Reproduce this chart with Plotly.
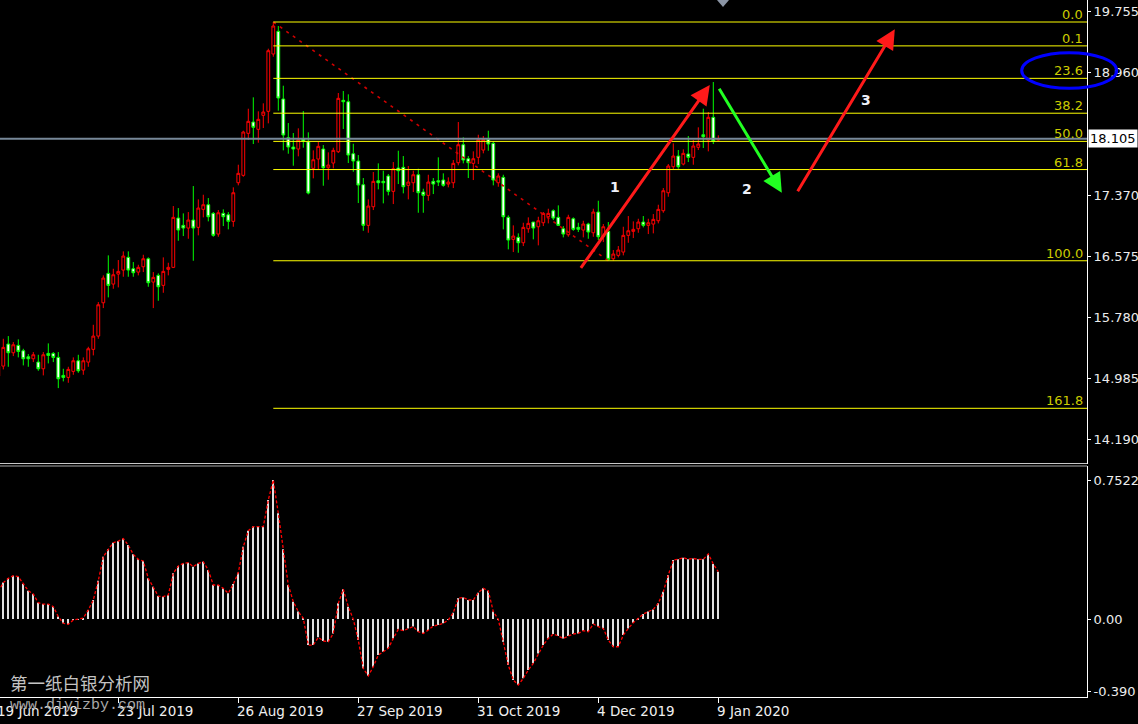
import plotly.graph_objects as go

# ---------------- data ----------------
open_ = [15.019, 15.149, 15.435, 15.322, 15.418, 15.348, 15.270, 15.244, 15.201, 15.114,
         15.314, 15.314, 15.262, 15.028, 15.002, 15.080, 15.218, 15.097, 15.201, 15.366,
         15.539, 15.972, 16.354, 16.215, 16.345, 16.397, 16.562, 16.414, 16.371, 16.440,
         16.544, 16.241, 16.328, 16.198, 16.406, 16.432, 17.073, 16.978, 16.943, 17.047,
         16.952, 17.186, 17.246, 17.134, 16.865, 17.134, 17.116, 17.030, 17.532, 17.628,
         18.174, 18.321, 18.226, 18.408, 18.460, 19.205, 19.500, 18.620, 18.117, 17.996,
         17.970, 18.100, 18.065, 17.719, 17.840, 17.970, 17.727, 17.788, 17.935, 18.603,
         18.585, 17.909, 17.814, 17.506, 16.978, 17.220, 17.558, 17.550, 17.619, 17.420,
         17.723, 17.732, 17.498, 17.532, 17.636, 17.411, 17.368, 17.550, 17.558, 17.567,
         17.515, 17.532, 17.792, 18.026, 17.844, 17.784, 17.862, 17.957, 18.096, 18.044,
         17.532, 17.602, 17.082, 16.796, 16.822, 16.752, 16.934, 17.021, 16.960, 17.012,
         17.090, 17.168, 17.082, 16.934, 16.856, 17.064, 16.952, 16.917, 16.995, 16.882,
         17.151, 16.830, 16.900, 16.544, 16.588, 16.631, 16.848, 16.900, 16.934, 17.021,
         16.978, 16.995, 17.038, 17.168, 17.402, 17.740, 17.879, 17.775, 17.905, 17.862,
         17.992, 18.156, 18.087, 18.382, 18.087]
high = [15.188, 15.504, 15.539, 15.461, 15.496, 15.374, 15.305, 15.331, 15.296, 15.331,
        15.444, 15.331, 15.331, 15.114, 15.140, 15.262, 15.296, 15.262, 15.400, 15.686,
        15.981, 16.328, 16.588, 16.414, 16.527, 16.640, 16.640, 16.501, 16.466, 16.596,
        16.562, 16.371, 16.354, 16.562, 16.492, 17.229, 17.203, 17.134, 17.151, 17.489,
        17.316, 17.376, 17.333, 17.151, 17.177, 17.186, 17.151, 17.472, 17.766, 18.208,
        18.494, 18.642, 18.460, 18.564, 19.274, 19.621, 19.569, 18.793, 18.308, 18.178,
        18.239, 18.464, 18.187, 17.953, 18.065, 18.022, 17.927, 17.987, 18.698, 18.724,
        18.681, 18.039, 17.892, 17.593, 17.316, 17.671, 17.784, 17.688, 17.645, 17.801,
        17.948, 17.879, 17.749, 17.688, 17.714, 17.454, 17.636, 17.593, 17.862, 17.654,
        17.602, 17.827, 18.321, 18.122, 17.879, 17.940, 18.156, 18.139, 18.208, 18.070,
        17.654, 17.636, 17.108, 16.978, 16.874, 17.012, 17.082, 17.021, 17.090, 17.151,
        17.194, 17.186, 17.238, 16.969, 17.116, 17.082, 17.012, 17.038, 17.012, 17.194,
        17.298, 16.995, 17.021, 16.657, 16.709, 16.960, 17.099, 17.030, 17.064, 17.099,
        17.064, 17.125, 17.246, 17.463, 17.775, 18.044, 17.957, 17.966, 18.139, 18.087,
        18.252, 18.494, 18.451, 18.841, 18.148]
low = [14.993, 15.106, 15.140, 15.279, 15.262, 15.158, 15.140, 15.201, 15.088, 15.028,
       15.184, 15.201, 14.863, 14.950, 14.932, 15.036, 15.062, 15.036, 15.140, 15.288,
       15.504, 15.903, 16.042, 16.154, 16.172, 16.310, 16.310, 16.310, 16.328, 16.371,
       16.180, 15.903, 15.998, 16.102, 16.328, 16.423, 16.778, 16.839, 16.804, 16.518,
       16.848, 17.082, 17.030, 16.830, 16.830, 16.969, 16.926, 16.960, 17.498, 17.610,
       18.087, 18.035, 18.052, 18.243, 18.304, 19.170, 18.468, 17.953, 17.909, 17.753,
       17.875, 17.987, 17.381, 17.589, 17.710, 17.493, 17.571, 17.719, 17.918, 18.230,
       17.788, 17.675, 17.268, 16.908, 16.882, 17.177, 17.446, 17.264, 17.368, 17.255,
       17.515, 17.394, 17.316, 17.411, 17.142, 17.142, 17.298, 17.385, 17.489, 17.480,
       17.472, 17.463, 17.758, 17.784, 17.593, 17.567, 17.775, 17.914, 17.948, 17.498,
       17.480, 16.926, 16.666, 16.631, 16.622, 16.709, 16.882, 16.796, 16.718, 16.969,
       17.004, 17.047, 16.969, 16.822, 16.830, 16.908, 16.891, 16.822, 16.804, 16.830,
       16.787, 16.761, 16.518, 16.518, 16.562, 16.588, 16.752, 16.813, 16.882, 16.952,
       16.865, 16.874, 17.004, 17.142, 17.350, 17.706, 17.714, 17.758, 17.801, 17.766,
       17.957, 17.983, 17.940, 18.035, 18.078]
close = [15.149, 15.392, 15.322, 15.426, 15.340, 15.244, 15.244, 15.296, 15.114, 15.296,
         15.288, 15.262, 14.984, 15.002, 15.106, 15.218, 15.088, 15.218, 15.374, 15.539,
         15.946, 16.293, 16.198, 16.336, 16.380, 16.579, 16.397, 16.362, 16.432, 16.544,
         16.232, 16.302, 16.180, 16.380, 16.432, 17.082, 16.917, 16.943, 17.047, 16.943,
         17.203, 17.246, 17.090, 16.848, 17.142, 17.090, 17.030, 17.402, 17.654, 18.191,
         18.330, 18.252, 18.356, 18.451, 19.248, 19.569, 18.633, 18.152, 17.996, 17.970,
         18.091, 18.074, 17.398, 17.831, 18.005, 17.727, 17.762, 17.953, 18.629, 18.585,
         17.892, 17.814, 17.502, 16.978, 17.229, 17.550, 17.532, 17.532, 17.420, 17.714,
         17.688, 17.480, 17.541, 17.636, 17.402, 17.368, 17.541, 17.515, 17.541, 17.498,
         17.541, 17.784, 18.026, 17.827, 17.792, 17.844, 18.096, 18.096, 18.035, 17.567,
         17.619, 17.090, 16.787, 16.839, 16.752, 16.952, 17.004, 16.943, 17.038, 17.134,
         17.134, 17.073, 16.978, 16.865, 17.082, 16.926, 16.926, 16.995, 16.891, 17.151,
         16.830, 16.960, 16.536, 16.605, 16.657, 16.848, 16.908, 16.926, 17.021, 16.978,
         17.012, 17.056, 17.186, 17.428, 17.749, 17.879, 17.740, 17.914, 17.862, 18.009,
         18.035, 18.130, 18.382, 18.070, 18.104]
osma = [0.148, 0.197, 0.220, 0.234, 0.229, 0.189, 0.153, 0.135, 0.088, 0.081,
        0.081, 0.067, 0.013, -0.023, -0.029, -0.005, -0.002, 0.005, 0.049, 0.103,
        0.207, 0.337, 0.377, 0.413, 0.422, 0.435, 0.400, 0.350, 0.323, 0.314,
        0.220, 0.175, 0.124, 0.121, 0.130, 0.247, 0.287, 0.301, 0.305, 0.283,
        0.301, 0.310, 0.265, 0.184, 0.184, 0.166, 0.139, 0.189, 0.251, 0.391,
        0.478, 0.500, 0.500, 0.500, 0.644, 0.7522, 0.572, 0.377, 0.184, 0.094,
        0.040, 0.004, -0.141, -0.141, -0.099, -0.119, -0.123, -0.078, 0.085, 0.161,
        0.067, -0.002, -0.114, -0.267, -0.308, -0.258, -0.195, -0.177, -0.159, -0.105,
        -0.056, -0.063, -0.051, -0.041, -0.069, -0.078, -0.060, -0.038, -0.032, -0.023,
        -0.005, 0.034, 0.112, 0.117, 0.103, 0.103, 0.142, 0.166, 0.153, 0.040,
        -0.002, -0.123, -0.249, -0.330, -0.357, -0.321, -0.276, -0.240, -0.186, -0.141,
        -0.105, -0.081, -0.092, -0.105, -0.092, -0.081, -0.078, -0.063, -0.069, -0.027,
        -0.041, -0.051, -0.114, -0.150, -0.150, -0.087, -0.051, -0.020, 0.004, 0.027,
        0.040, 0.052, 0.085, 0.148, 0.238, 0.319, 0.323, 0.332, 0.323, 0.328,
        0.323, 0.323, 0.352, 0.298, 0.256]

date_tick_bars = [0, 24, 48, 72, 96, 120, 144]
date_tick_labels = ["19 Jun 2019", "23 Jul 2019", "26 Aug 2019", "27 Sep 2019",
                    "31 Oct 2019", "4 Dec 2019", "9 Jan 2020"]
price_ticks = [19.755, 18.960, 17.370, 16.575, 15.780, 14.985, 14.190]
price_tick_text = ["19.755", "18.960", "17.370", "16.575", "15.780", "14.985", "14.190"]
osc_ticks = [0.7522, 0.0, -0.390]
osc_tick_text = ["0.7522", "0.00", "-0.390"]

fib_ratios = [0.0, 0.1, 0.236, 0.382, 0.5, 0.618, 1.0, 1.618]
fib_labels = ["0.0", "0.1", "23.6", "38.2", "50.0", "61.8", "100.0", "161.8"]
fib_high_bar, fib_low_bar = 55, 122
current_price = 18.105

# wave arrows: (tail bar, tail price, head bar, head price, colour)
wave_arrows = [(116.3, 16.406, 142.3, 18.802, "#ff1a1a"),
               (144.0, 18.772, 156.7, 17.402, "#22ff22"),
               (159.7, 17.402, 179.3, 19.526, "#ff1a1a")]
wave_labels = ["1", "2", "3"]
wave_label_bar = [123.3, 149.8, 173.5]
wave_label_price = [17.48, 17.446, 18.607]

# ---------------- figure ----------------
bars = list(range(len(close)))
x_range = [0.34, 217.74]
W, H = 1138, 724
ML, MR, MT, MB = 0, 51, 0, 27
plot_h = H - MT - MB
main_dom = [(plot_h - 463.5) / plot_h, 1.0]
osc_dom = [0.0, (plot_h - 466) / plot_h]

fib_high = max(high)
fib_low = min(low[100:])
fib_levels = [fib_high - r * (fib_high - fib_low) for r in fib_ratios]

fig = go.Figure()
fig.add_trace(go.Candlestick(
    x=bars, open=open_, high=high, low=low, close=close,
    increasing=dict(line=dict(color="#ff0000", width=1), fillcolor="#000000"),
    decreasing=dict(line=dict(color="#00ff00", width=1), fillcolor="#ffffff"),
    whiskerwidth=0, xaxis="x", yaxis="y", showlegend=False, hoverinfo="skip"))

fig.add_trace(go.Bar(x=bars, y=osma, width=0.22, marker=dict(color="#e0e0e0", line=dict(width=0)),
                     xaxis="x2", yaxis="y2", showlegend=False, hoverinfo="skip"))
fig.add_trace(go.Scatter(x=bars, y=osma, mode="lines",
                         line=dict(color="#ff0000", width=1.3, dash="3px,2px"),
                         xaxis="x2", yaxis="y2", showlegend=False, hoverinfo="skip"))

# trend line high -> low
fig.add_trace(go.Scatter(x=[fib_high_bar, fib_low_bar], y=[fib_high, fib_low], mode="lines",
                         line=dict(color="#d00000", width=1.6, dash="3px,5px"),
                         xaxis="x", yaxis="y", showlegend=False, hoverinfo="skip"))

shapes = []
annotations = []
for lvl, lab in zip(fib_levels, fib_labels):
    shapes.append(dict(type="line", xref="x", yref="y", x0=fib_high_bar, x1=x_range[1],
                       y0=lvl, y1=lvl, line=dict(color="#ffff00", width=1)))
    annotations.append(dict(xref="paper", yref="y", x=1.0, y=lvl, text=lab, showarrow=False,
                            xanchor="right", yanchor="bottom", xshift=-2, yshift=-2,
                            font=dict(family="DejaVu Sans", size=13, color="#cccc00")))

# current price line + box
shapes.append(dict(type="line", xref="paper", yref="y", x0=0, x1=1, y0=current_price,
                   y1=current_price, line=dict(color="#778899", width=2)))
annotations.append(dict(xref="paper", yref="y", x=1.0, y=current_price, text="18.105",
                        showarrow=False, xanchor="left", yanchor="middle", xshift=1,
                        bgcolor="#ffffff", borderpad=1,
                        font=dict(family="DejaVu Sans", size=13, color="#000000")))

# panel separators and frame
for ypx, col in [(463.5, "#c8c8c8"), (466.0, "#a8a8a8")]:
    yy = (plot_h - ypx) / plot_h
    shapes.append(dict(type="line", xref="paper", yref="paper", x0=0, x1=1, y0=yy, y1=yy,
                       line=dict(color=col, width=1)))

# blue ellipse around 23.6 label
shapes.append(dict(type="circle", xref="paper", yref="paper",
                   x0=1021.7 / 1087, x1=1116.7 / 1087,
                   y0=(plot_h - 88.3) / plot_h, y1=(plot_h - 52.7) / plot_h,
                   line=dict(color="#0000ff", width=3)))

# chart shift marker at top
tx0, tx1 = 717 / 1087, 729 / 1087
shapes.append(dict(type="path", xref="paper", yref="paper",
                   path=f"M {tx0} 1 L {tx1} 1 L {(tx0 + tx1) / 2} {(plot_h - 7) / plot_h} Z",
                   fillcolor="#8b95a5", line=dict(width=0)))

for (xa, ya, xh, yh, col) in wave_arrows:
    annotations.append(dict(x=xh, y=yh, ax=xa, ay=ya, xref="x", yref="y", axref="x", ayref="y",
                            showarrow=True, arrowhead=2, arrowsize=1.3, arrowwidth=3,
                            arrowcolor=col, text="", standoff=0, startstandoff=0))
for lab, xb, yp in zip(wave_labels, wave_label_bar, wave_label_price):
    annotations.append(dict(x=xb, y=yp, xref="x", yref="y", text="<b>" + lab + "</b>",
                            showarrow=False, font=dict(family="DejaVu Sans", size=14,
                                                       color="#eef0f8")))

# date labels (left aligned at their tick, like the terminal)
for b, lab in zip(date_tick_bars, date_tick_labels):
    px = (b - x_range[0]) / (x_range[1] - x_range[0])
    annotations.append(dict(xref="paper", yref="paper", x=px, y=(plot_h - 711) / plot_h,
                            text=lab, showarrow=False, xanchor="left", yanchor="middle",
                            xshift=-3, font=dict(family="DejaVu Sans", size=13.5, color="#f0f0f0")))

# watermark
annotations.append(dict(xref="paper", yref="paper", x=8 / 1087, y=(plot_h - 682) / plot_h,
                        text="第一纸白银分析网", showarrow=False, xanchor="left", yanchor="middle",
                        font=dict(family="Noto Sans CJK SC", size=17.5, color="#c4c4c4")))
annotations.append(dict(xref="paper", yref="paper", x=8 / 1087, y=(plot_h - 705) / plot_h,
                        text="www.diyizby.com", showarrow=False, xanchor="left", yanchor="middle",
                        font=dict(family="Liberation Mono", size=15, color="#a8a8a8")))

axis_font = dict(family="DejaVu Sans", size=13, color="#ececec")
fig.update_layout(
    width=W, height=H, margin=dict(l=ML, r=MR, t=MT, b=MB, pad=0),
    paper_bgcolor="#000000", plot_bgcolor="#000000",
    showlegend=False, hovermode=False, boxgap=0.2,
    xaxis=dict(domain=[0, 1], anchor="y", range=x_range, showticklabels=False, showgrid=False,
               zeroline=False, showline=False, ticks="", rangeslider=dict(visible=False)),
    xaxis2=dict(domain=[0, 1], anchor="y2", range=x_range, tickvals=date_tick_bars,
                showticklabels=False, ticks="outside", ticklen=5, tickcolor="#ffffff",
                showgrid=False, zeroline=False, showline=True, linecolor="#ffffff", linewidth=1),
    yaxis=dict(domain=main_dom, anchor="x", side="right", range=[13.883, 19.907],
               tickvals=price_ticks, ticktext=price_tick_text, ticks="outside", ticklen=3,
               tickcolor="#ffffff", tickfont=axis_font, showgrid=False, zeroline=False,
               showline=True, linecolor="#ffffff", linewidth=1),
    yaxis2=dict(domain=osc_dom, anchor="x2", side="right", range=[-0.422, 0.828],
                tickvals=osc_ticks, ticktext=osc_tick_text, ticks="outside", ticklen=3,
                tickcolor="#ffffff", tickfont=axis_font, showgrid=False, zeroline=False,
                showline=True, linecolor="#ffffff", linewidth=1),
    shapes=shapes, annotations=annotations,
)

fig.write_html("out.html", config={"displayModeBar": False},
               post_script="document.body.style.margin='0px';"
                           "document.body.style.overflow='hidden';"
                           "document.body.style.background='#000000';")
